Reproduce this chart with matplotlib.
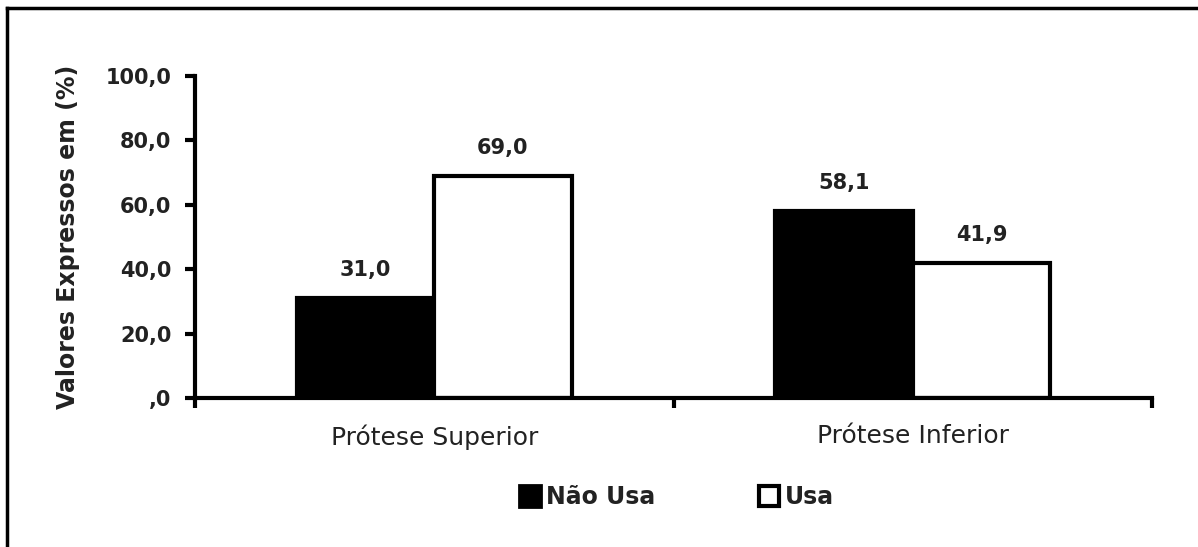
import numpy as np
import matplotlib.pyplot as plt
from matplotlib.lines import Line2D

plt.rcParams['font.family'] = ['DejaVu Sans']

# data
categories = ['Prótese Superior', 'Prótese Inferior']
nao_usa = [31.0, 58.1]
usa = [69.0, 41.9]
series_names = ['Não Usa', 'Usa']
yticks = [0, 20, 40, 60, 80, 100]


def fmt(v):
    s = f'{v:.1f}'.replace('.', ',')
    return s[1:] if s.startswith('0') else s


fig = plt.figure(figsize=(11.98, 5.47), dpi=100)
ax = fig.add_axes([195 / 1198, 1 - 398 / 547, (1152 - 195) / 1198, (398 - 76) / 547])

x = np.arange(len(categories))
w = 0.287
b1 = ax.bar(x - w / 2, nao_usa, w, color='black', edgecolor='black', linewidth=3)
b2 = ax.bar(x + w / 2, usa, w, color='white', edgecolor='black', linewidth=3)

for bars, vals in [(b1, nao_usa), (b2, usa)]:
    for r, v in zip(bars, vals):
        ax.annotate(fmt(v), (r.get_x() + r.get_width() / 2, v), xytext=(0, 13),
                    textcoords='offset points', ha='center', va='bottom',
                    fontsize=15, fontweight='bold', color='#222222')

ax.set_xlim(-0.5, len(categories) - 0.5)
ax.set_ylim(0, 100)

# y axis
ax.set_yticks(yticks)
ax.set_yticklabels([fmt(v) for v in yticks], fontsize=15, fontweight='bold', color='#222222')
ax.tick_params(axis='y', length=7, width=3, pad=10)

# x axis: tick marks on group boundaries, labels on centres
ax.set_xticks(np.arange(-0.5, len(categories), 1.0))
ax.set_xticklabels([])
ax.tick_params(axis='x', which='major', length=7, width=3)
ax.set_xticks(x, minor=True)
ax.set_xticklabels(categories, minor=True, fontsize=18, color='#222222')
ax.tick_params(axis='x', which='minor', length=0, pad=19)

for s in ['top', 'right']:
    ax.spines[s].set_visible(False)
for s in ['left', 'bottom']:
    ax.spines[s].set_linewidth(3)

ax.set_ylabel('Valores Expressos em (%)', fontsize=17, fontweight='bold',
              color='#222222')
ax.yaxis.set_label_coords(-0.12, 0.5)

handles = [
    Line2D([], [], marker='s', linestyle='none', markersize=16,
           markerfacecolor='black', markeredgecolor='black', markeredgewidth=2),
    Line2D([], [], marker='s', linestyle='none', markersize=15,
           markerfacecolor='white', markeredgecolor='black', markeredgewidth=3),
]
leg = fig.legend(handles, series_names, loc='center', ncol=2,
                 bbox_to_anchor=(676 / 1198, 1 - 497 / 547), frameon=False,
                 prop={'size': 17, 'weight': 'bold'}, handlelength=1.0,
                 handletextpad=0.2, columnspacing=4.3)
for t in leg.get_texts():
    t.set_color('#222222')

# outer frame (top and left edges)
fig.add_artist(Line2D([7 / 1198, 7 / 1198], [0, 1 - 8 / 547], color='black', lw=2.5))
fig.add_artist(Line2D([7 / 1198, 1], [1 - 8 / 547, 1 - 8 / 547], color='black', lw=2.5))

fig.savefig('out.png', dpi=100)
